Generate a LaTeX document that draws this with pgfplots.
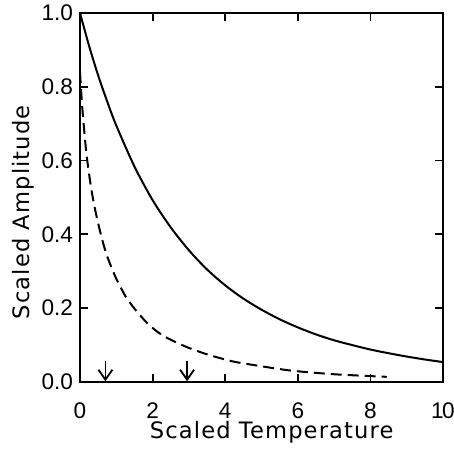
\documentclass[border=0pt]{standalone}
\usepackage{pgfplots}
\pgfplotsset{compat=1.18}
\usepackage{fontspec}
\setmainfont{DejaVu Sans}[LetterSpace=5]
\newfontfamily\tickfont{Liberation Sans}
\usetikzlibrary{arrows.meta}
\begin{document}
\begin{tikzpicture}
\useasboundingbox (-40pt,-36pt) rectangle (187pt,191pt);
\begin{axis}[
  at={(0,0)}, anchor=south west,
  scale only axis,
  width=181.5pt, height=184.5pt,
  xmin=0, xmax=10, ymin=0, ymax=1,
  xtick={0,2,4,6,8,10},
  xticklabels={0,2,4,6,8,1\kern-0.8pt0},
  ytick={0,0.2,0.4,0.6,0.8,1.0},
  yticklabel style={/pgf/number format/.cd, fixed, fixed zerofill, precision=1},
  /pgf/number format/assume math mode=true,
  tick align=inside,
  major tick length=4pt,
  axis line style={line width=1pt},
  every tick/.style={line width=0.9pt, black},
  tick label style={font=\tickfont\fontsize{11.3}{13}\selectfont},
  xticklabel style={anchor=base, yshift=-18pt},
  label style={font=\fontsize{11.3}{13}\selectfont},
  xlabel={Scaled Temperature},
  ylabel={Scaled Amplitude},
  xlabel style={at={(axis description cs:0.528,-0.152)}, anchor=base},
  ylabel style={at={(axis description cs:-0.155,0.46)}, anchor=center},
  clip=false,
]
\addplot[black, line width=1pt, smooth] coordinates {
(0,1.0) (0.25,0.911) (0.5,0.831) (0.75,0.760) (1,0.695) (1.5,0.584) (2,0.493)
(2.5,0.419) (3,0.357) (3.5,0.305) (4,0.262) (4.5,0.226) (5,0.196) (5.5,0.170)
(6,0.148) (6.5,0.129) (7,0.113) (7.5,0.100) (8,0.088) (8.5,0.078) (9,0.069)
(9.5,0.061) (10,0.054)
};
\addplot[black, line width=1pt, smooth, dash pattern=on 5.5pt off 3pt] coordinates {
(0,0.84) (0.05,0.76) (0.1,0.70) (0.15,0.645) (0.2,0.60) (0.3,0.53) (0.4,0.475)
(0.5,0.43) (0.6,0.39) (0.7,0.355) (0.8,0.327) (1.0,0.28) (1.25,0.233) (1.5,0.199)
(1.85,0.16) (2.25,0.128) (2.86,0.098) (3.5,0.075) (4.2,0.056) (4.72,0.047)
(5.5,0.035) (6,0.029) (7,0.021) (8,0.016) (8.45,0.014)
};
\addplot[black, line width=0.9pt, -{Straight Barb[length=5pt,width=7pt]}] coordinates {(0.7,0.058) (0.7,0.002)};
\addplot[black, line width=0.9pt, -{Straight Barb[length=5pt,width=7pt]}] coordinates {(2.95,0.058) (2.95,0.002)};
\end{axis}
\end{tikzpicture}
\end{document}
